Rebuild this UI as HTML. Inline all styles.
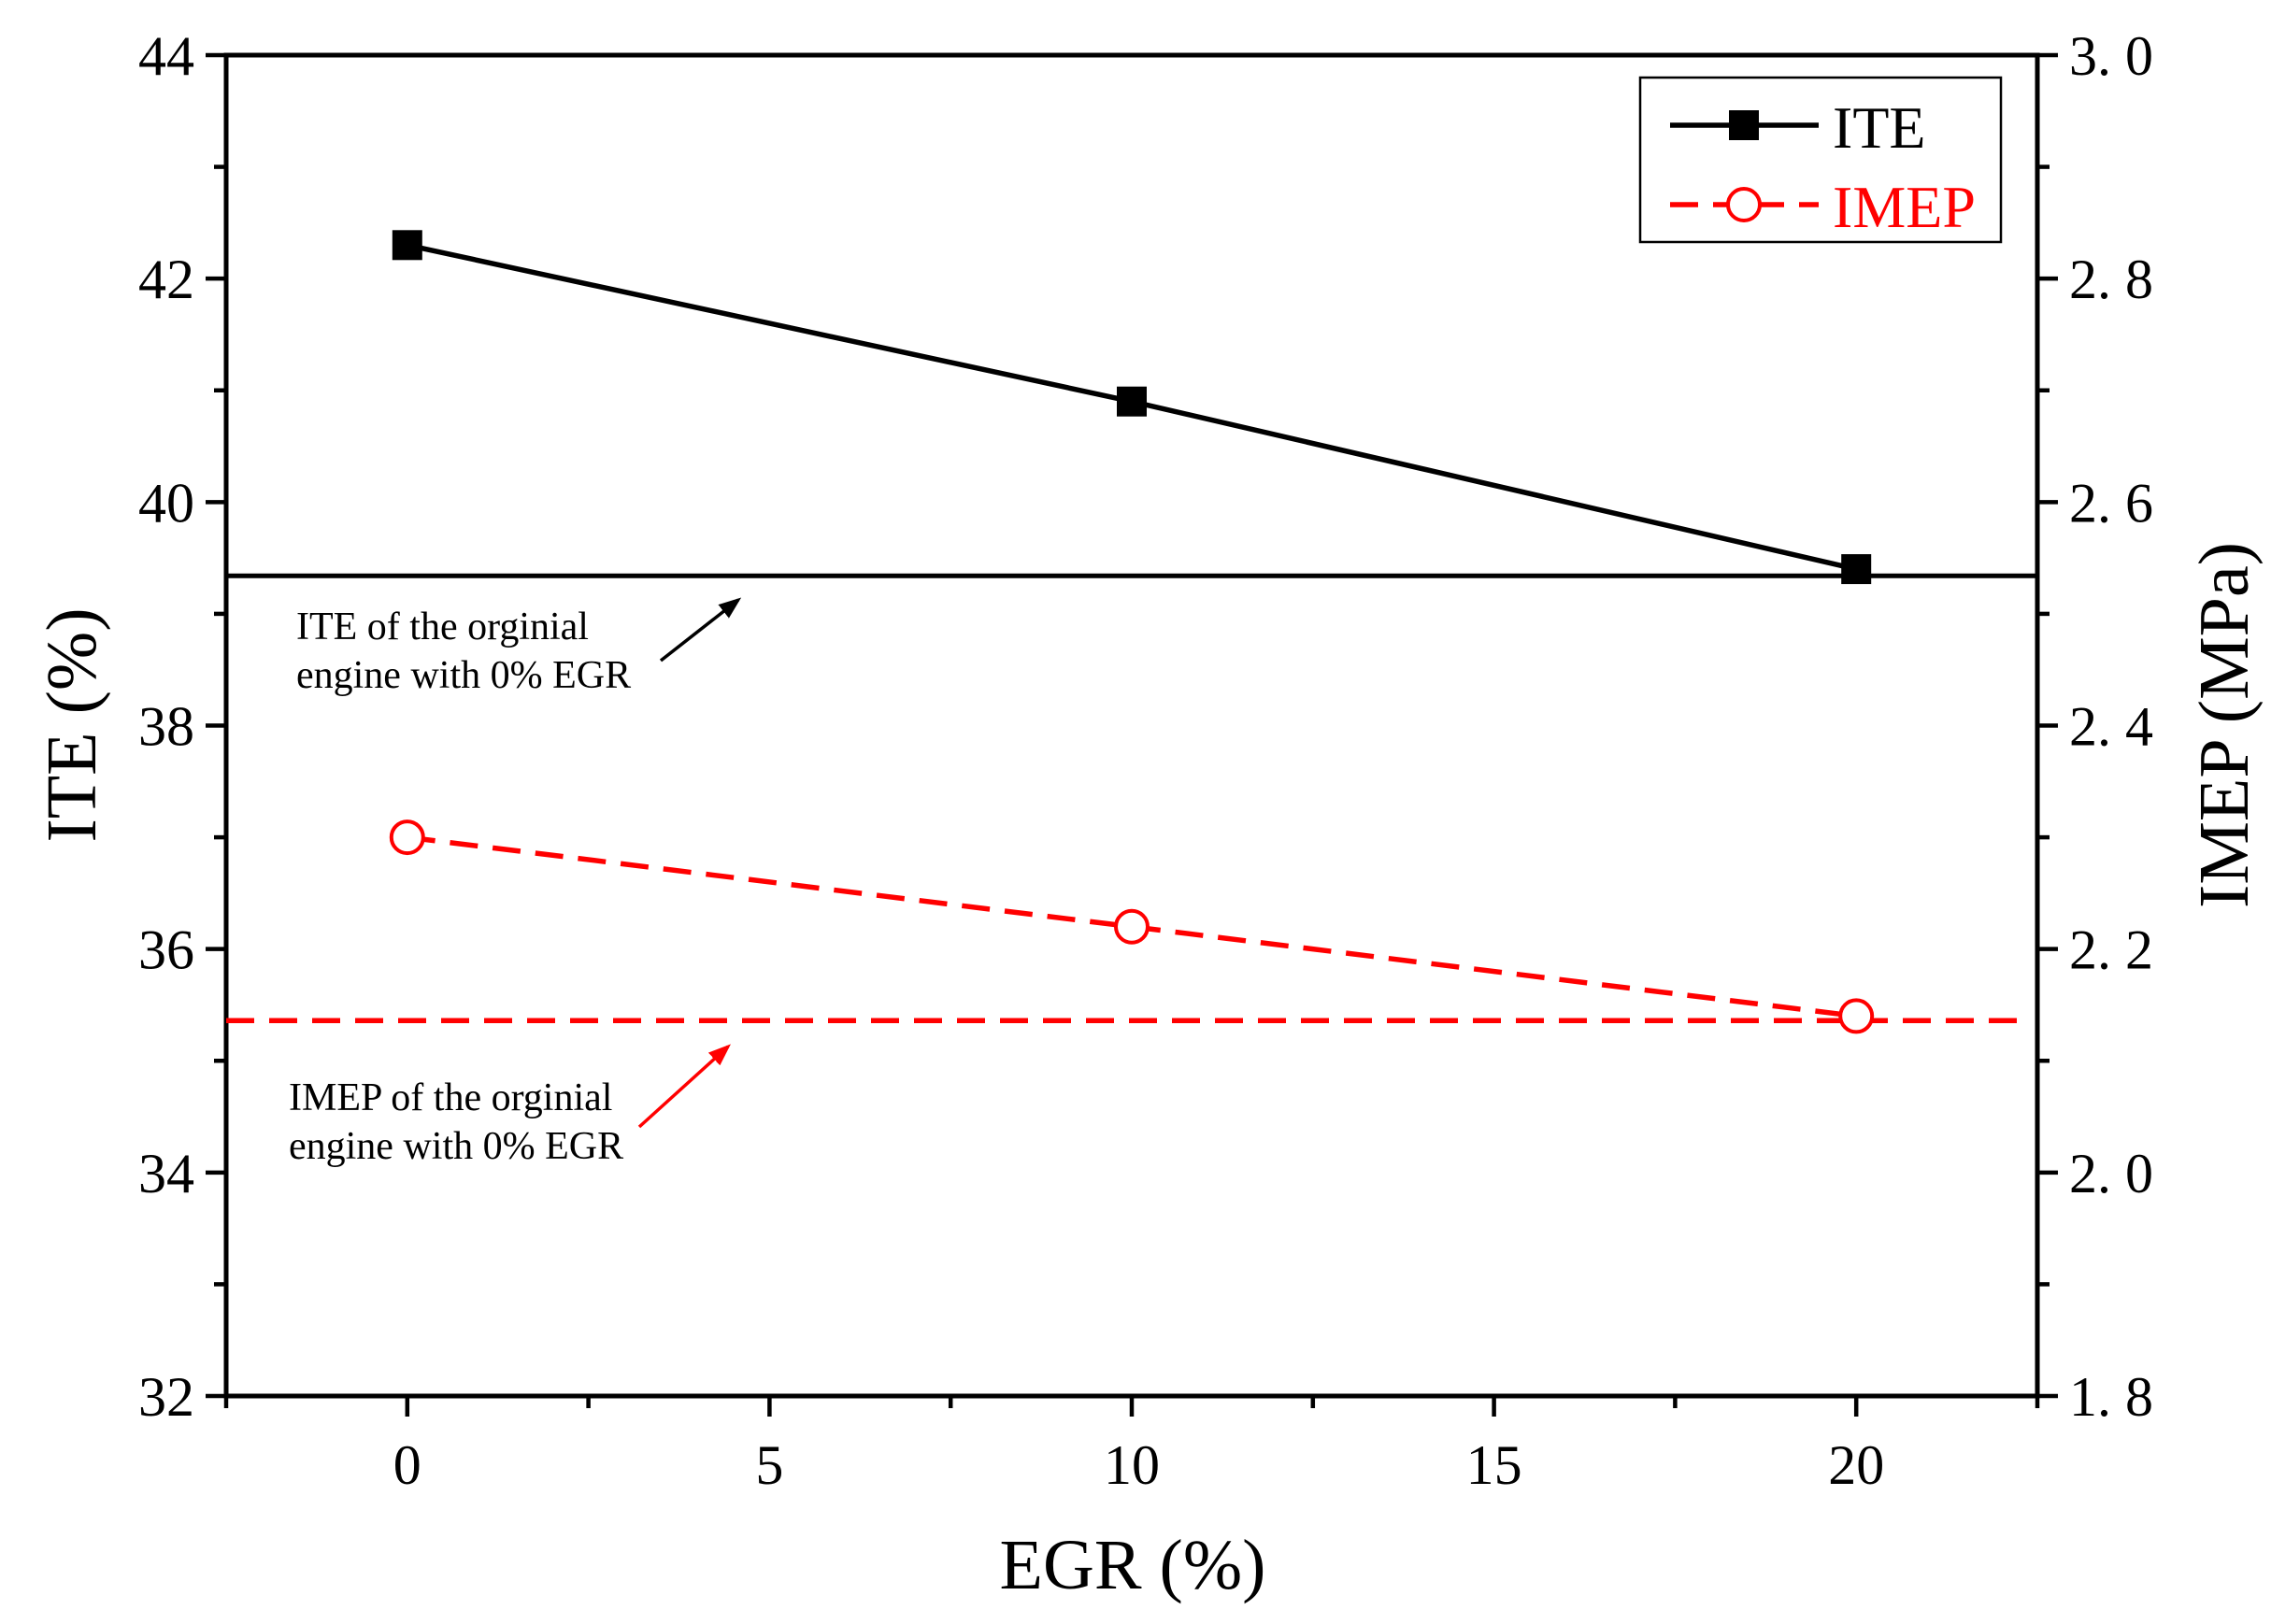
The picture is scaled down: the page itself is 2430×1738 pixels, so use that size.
<!DOCTYPE html>
<html><head><meta charset="utf-8"><style>
html,body{margin:0;padding:0;background:#fff;}
svg{display:block;font-family:"Liberation Serif","Noto Serif CJK SC",serif;}
</style></head><body>
<svg id="chart" width="2430" height="1738" viewBox="0 0 2430 1738" xmlns="http://www.w3.org/2000/svg"></svg>
<script>
const egrValues = [0, 10, 20];
const iteValues = [42.3, 40.9, 39.4];
const imepValues = [2.30, 2.22, 2.14];
const iteBaseline = 39.34;
const imepBaseline = 2.136;
const xTicks = [0, 5, 10, 15, 20];
const leftTicks = [32, 34, 36, 38, 40, 42, 44];
const rightTicks = ["1. 8","2. 0","2. 2","2. 4","2. 6","2. 8","3. 0"];
const rightTickValues = [1.8, 2.0, 2.2, 2.4, 2.6, 2.8, 3.0];

const L=242, R=2180, T=59, B=1494;
const xMin=-2.5, xMax=22.5;
const X = v => L + (v - xMin) / (xMax - xMin) * (R - L);
const YL = v => B - (v - 32) / 12 * (B - T);
const YR = v => B - (v - 1.8) / 1.2 * (B - T);
const svg = document.getElementById('chart');
const NS = 'http://www.w3.org/2000/svg';
function mk(tag, attrs, parent) {
  const e = document.createElementNS(NS, tag);
  for (const k in attrs) e.setAttribute(k, attrs[k]);
  (parent || svg).appendChild(e);
  return e;
}
const defs = mk('defs', {});
const m1 = mk('marker', {id:'ab', markerWidth:40, markerHeight:40, refX:0, refY:0, orient:'auto', markerUnits:'userSpaceOnUse', viewBox:'-20 -20 40 40'}, defs);
mk('path', {d:'M4,0 L-22,-10 L-22,10 Z', fill:'#000'}, m1);
const m2 = mk('marker', {id:'ar', markerWidth:40, markerHeight:40, refX:0, refY:0, orient:'auto', markerUnits:'userSpaceOnUse', viewBox:'-20 -20 40 40'}, defs);
mk('path', {d:'M4,0 L-22,-10 L-22,10 Z', fill:'#f00'}, m2);

let e = mk('rect', {x:L, y:T, width:R-L, height:B-T, fill:'none', stroke:'#000', 'stroke-width':5});



for (let v = 32; v <= 44; v++) {
  const major = v % 2 === 0;
  e = mk('line', {x1:L, x2:L-(major?22:13), y1:YL(v), y2:YL(v), stroke:'#000', 'stroke-width':4.5});
  
  
  e = mk('line', {x1:R, x2:R+(major?22:13), y1:YL(v), y2:YL(v), stroke:'#000', 'stroke-width':4.5});
  
  
}
leftTicks.forEach(v => {
  const t = mk('text', {x:L-34, y:YL(v)+21, 'text-anchor':'end', 'font-size':60});
  t.textContent = v;
  
  
});
rightTicks.forEach((s, i) => {
  const t = mk('text', {x:R+34, y:YR(rightTickValues[i])+21, 'font-size':60});
  t.textContent = s;
  
  
});
for (let v = -2.5; v <= 22.5; v += 2.5) {
  const major = Math.abs(v % 5) < 1e-9;
  e = mk('line', {x1:X(v), x2:X(v), y1:B, y2:B+(major?22:13), stroke:'#000', 'stroke-width':4.5});
  
  
}
xTicks.forEach(v => {
  const t = mk('text', {x:X(v), y:B+94, 'text-anchor':'middle', 'font-size':60});
  t.textContent = v;
  
  
});
let t = mk('text', {x:1212, y:1700, 'text-anchor':'middle', 'font-size':76});
t.textContent = 'EGR (%)';


t = mk('text', {x:0, y:0, 'text-anchor':'middle', 'font-size':76, transform:'translate(102,776) rotate(-90)'});
t.textContent = 'ITE (%)';


t = mk('text', {x:0, y:0, 'text-anchor':'middle', 'font-size':76, transform:'translate(2405,776) rotate(-90)'});
t.textContent = 'IMEP (MPa)';



e = mk('line', {x1:L, x2:R, y1:YL(iteBaseline), y2:YL(iteBaseline), stroke:'#000', 'stroke-width':5});


e = mk('line', {x1:L, x2:R-20, y1:YR(imepBaseline), y2:YR(imepBaseline), stroke:'#f00', 'stroke-width':5.5, 'stroke-dasharray':'30 16'});



e = mk('polyline', {points: egrValues.map((x,i)=>X(x)+','+YL(iteValues[i])).join(' '), fill:'none', stroke:'#000', 'stroke-width':5.5});


e = mk('polyline', {points: egrValues.map((x,i)=>X(x)+','+YR(imepValues[i])).join(' '), fill:'none', stroke:'#f00', 'stroke-width':5.5, 'stroke-dasharray':'30 16'});


egrValues.forEach((x, i) => {
  const s = mk('rect', {x:X(x)-16, y:YL(iteValues[i])-16, width:32, height:32, fill:'#000'});
  
  
  const c = mk('circle', {cx:X(x), cy:YR(imepValues[i]), r:17, fill:'#fff', stroke:'#f00', 'stroke-width':4});
  
  
});

t = mk('text', {x:317, y:684, 'font-size':42});
t.textContent = 'ITE of the orginial';


t = mk('text', {x:317, y:736, 'font-size':42});
t.textContent = 'engine with 0% EGR';


e = mk('line', {x1:707, y1:707, x2:790, y2:642, stroke:'#000', 'stroke-width':3.5, 'marker-end':'url(#ab)'});


t = mk('text', {x:309, y:1188, 'font-size':42});
t.textContent = 'IMEP of the orginial';


t = mk('text', {x:309, y:1240, 'font-size':42});
t.textContent = 'engine with 0% EGR';


e = mk('line', {x1:684, y1:1206, x2:779, y2:1120, stroke:'#f00', 'stroke-width':3.5, 'marker-end':'url(#ar)'});



const lg = mk('g', {});


mk('rect', {x:1755, y:83, width:386, height:176, fill:'#fff', stroke:'#000', 'stroke-width':2.5}, lg);
e = mk('line', {x1:1787, x2:1946, y1:134, y2:134, stroke:'#000', 'stroke-width':5.5}, lg);


mk('rect', {x:1850, y:118, width:32, height:32, fill:'#000'}, lg);
t = mk('text', {x:1961, y:158, 'font-size':64}, lg);
t.textContent = 'ITE';


e = mk('line', {x1:1787, x2:1946, y1:219, y2:219, stroke:'#f00', 'stroke-width':5.5, 'stroke-dasharray':'30 16'}, lg);


mk('circle', {cx:1866, cy:219, r:17, fill:'#fff', stroke:'#f00', 'stroke-width':4}, lg);
t = mk('text', {x:1961, y:243, 'font-size':64, fill:'#f00'}, lg);
t.textContent = 'IMEP';


</script>
</body></html>
